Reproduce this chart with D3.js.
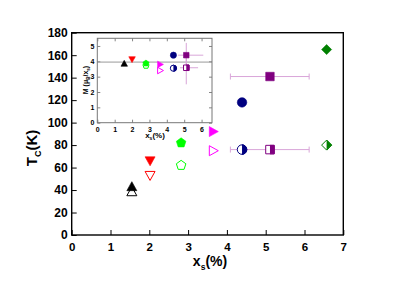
<!DOCTYPE html>
<html>
<head>
<meta charset="utf-8">
<script src="https://cdn.jsdelivr.net/npm/d3@7/dist/d3.min.js"></script>
<style>
  body { margin: 0; background: #fff; }
  svg { font-family: "Liberation Sans", Arial, sans-serif; font-weight: bold; }
</style>
</head>
<body>
<svg id="chart" width="399" height="282"></svg>
<script>
// main panel data
var shapes = ['tri-up', 'tri-down', 'pentagon', 'tri-right', 'circle', 'square', 'diamond'];
var colors = ['#000000', '#ff0000', '#00ff00', '#ff00ff', '#000080', '#800080', '#008000'];
var xs = [1.55, 2.02, 2.82, 3.65, 4.39, 5.11, 6.57];
var tcFilled = [43, 66, 82, 92, 118, 141, 165];
var tcOpen = [38.5, 53, 62, 75, 76, 76, 80];
var halfFilled = [false, false, false, false, true, true, true];
var xErrLow = [null, null, null, null, null, 4.09, null];
var xErrHigh = [null, null, null, null, null, 6.12, null];
var xTicks = [0, 1, 2, 3, 4, 5, 6, 7];
var yTicks = [0, 20, 40, 60, 80, 100, 120, 140, 160, 180];

// inset data
var insetXs = [1.55, 2.0, 2.8, 3.62, 4.38, 5.12];
var mFilled = [3.85, 4.13, 3.87, 3.8, 4.4, 4.4];
var mOpen = [null, null, 3.72, 3.4, 3.55, 3.58];
var insetXErrLow = [null, null, null, null, null, 4.65];
var insetXErrHigh = [null, null, null, null, null, 6.1];
var insetYErrLow = [null, null, null, null, null, 3.6];
var insetYErrHigh = [null, null, null, null, null, 5.2];
var openXErrLow = [null, null, null, null, null, 4.76];
var openXErrHigh = [null, null, null, null, null, 5.8];
var openYErrLow = [null, null, null, null, null, 2.5];
var openYErrHigh = [null, null, null, null, null, 4.4];
var insetRef = 3.95;
var insetXTicks = [0, 1, 2, 3, 4, 5, 6];
var insetYTicks = [0, 1, 2, 3, 4, 5];

var errColor = '#d9a6d9';
var svg = d3.select('#chart');

function shapePath(type, s) {
  var h = s / 2;
  switch (type) {
    case 'tri-up': return 'M0,' + (-h) + 'L' + h + ',' + (h * 0.8) + 'L' + (-h) + ',' + (h * 0.8) + 'Z';
    case 'tri-down': return 'M0,' + h + 'L' + h + ',' + (-h * 0.8) + 'L' + (-h) + ',' + (-h * 0.8) + 'Z';
    case 'tri-right': return 'M' + h + ',0L' + (-h * 0.8) + ',' + h + 'L' + (-h * 0.8) + ',' + (-h) + 'Z';
    case 'square': return 'M' + (-h * 0.85) + ',' + (-h * 0.85) + 'h' + (1.7 * h) + 'v' + (1.7 * h) + 'h' + (-1.7 * h) + 'Z';
    case 'diamond': return 'M0,' + (-h) + 'L' + h + ',0L0,' + h + 'L' + (-h) + ',0Z';
    case 'pentagon':
      var p = [];
      for (var k = 0; k < 5; k++) {
        var a = -Math.PI / 2 + k * 2 * Math.PI / 5;
        p.push((h * Math.cos(a)).toFixed(2) + ',' + (h * Math.sin(a)).toFixed(2));
      }
      return 'M' + p.join('L') + 'Z';
    case 'circle':
      var r = h * 0.95;
      return 'M' + (-r) + ',0A' + r + ',' + r + ' 0 1,0 ' + r + ',0A' + r + ',' + r + ' 0 1,0 ' + (-r) + ',0Z';
  }
}

var clipCount = 0;
function marker(g, type, color, x, y, size, style) {
  var m = g.append('g').attr('transform', 'translate(' + x + ',' + y + ')');
  var d = shapePath(type, size);
  if (style === 'filled') {
    m.append('path').attr('d', d).attr('fill', color).attr('stroke', color).attr('stroke-width', 0.6);
  } else {
    m.append('path').attr('d', d).attr('fill', '#fff').attr('stroke', color).attr('stroke-width', 1);
    if (style === 'half') {
      var id = 'half' + (clipCount++);
      m.append('clipPath').attr('id', id).append('rect')
        .attr('x', 0).attr('y', -size).attr('width', size).attr('height', 2 * size);
      m.append('path').attr('d', d).attr('fill', color).attr('stroke', color)
        .attr('stroke-width', 1).attr('clip-path', 'url(#' + id + ')');
    }
  }
}

// ---------- main plot ----------
var x = d3.scaleLinear().domain([0, 7]).range([71.7, 343.3]);
var y = d3.scaleLinear().domain([0, 180]).range([235, 32.7]);

var gx = svg.append('g').attr('transform', 'translate(0,' + y(0) + ')');
gx.call(d3.axisBottom(x).tickValues(d3.range(0, 7.01, 0.5)).tickSize(-3).tickFormat(''));
gx.call(d3.axisBottom(x).tickValues(xTicks).tickSize(-5).tickPadding(8).tickFormat(d3.format('d')));
gx.selectAll('.domain').remove();
gx.selectAll('line').attr('stroke-width', 1);
gx.selectAll('text').attr('font-size', 11.5).attr('font-weight', 'bold').attr('fill', '#000');

var gy = svg.append('g').attr('transform', 'translate(' + x(0) + ',0)');
gy.call(d3.axisLeft(y).tickValues(d3.range(0, 181, 10)).tickSize(-3).tickFormat(''));
gy.call(d3.axisLeft(y).tickValues(yTicks).tickSize(-5).tickPadding(4).tickFormat(d3.format('d')));
gy.selectAll('.domain').remove();
gy.selectAll('line').attr('stroke-width', 1);
gy.selectAll('text').attr('font-size', 12).attr('font-weight', 'bold').attr('fill', '#000');

svg.append('rect').attr('x', x.range()[0]).attr('y', y.range()[1])
  .attr('width', x.range()[1] - x.range()[0]).attr('height', y.range()[0] - y.range()[1])
  .attr('fill', 'none').attr('stroke', '#000').attr('stroke-width', 1.4);

var plot = svg.append('g');
// error bars
xs.forEach(function(v, i) {
  if (xErrLow[i] === null) return;
  [tcFilled[i], tcOpen[i]].forEach(function(t) {
    plot.append('line').attr('x1', x(xErrLow[i])).attr('x2', x(xErrHigh[i]))
      .attr('y1', y(t)).attr('y2', y(t)).attr('stroke', errColor).attr('stroke-width', 1);
    [xErrLow[i], xErrHigh[i]].forEach(function(e) {
      plot.append('line').attr('x1', x(e)).attr('x2', x(e)).attr('y1', y(t) - 3).attr('y2', y(t) + 3)
        .attr('stroke', errColor).attr('stroke-width', 1);
    });
  });
});
xs.forEach(function(v, i) {
  marker(plot, shapes[i], colors[i], x(v), y(tcOpen[i]), 10, halfFilled[i] ? 'half' : 'open');
  marker(plot, shapes[i], colors[i], x(v), y(tcFilled[i]), 10, 'filled');
});

// axis titles
var xt = svg.append('text').attr('x', 210).attr('y', 266).attr('text-anchor', 'middle')
  .attr('font-size', 14).attr('fill', '#000');
xt.append('tspan').text('x');
xt.append('tspan').attr('font-size', 8.5).attr('dy', 4).text('s');
xt.append('tspan').attr('dy', -4).text('(%)');

var yt = svg.append('text').attr('transform', 'translate(37,148) rotate(-90)')
  .attr('text-anchor', 'middle').attr('font-size', 15).attr('fill', '#000');
yt.append('tspan').text('T');
yt.append('tspan').attr('font-size', 9).attr('dy', 4).text('C');
yt.append('tspan').attr('dy', -4).text('(K)');

// ---------- inset ----------
var ix = d3.scaleLinear().domain([0, 6.6]).range([97.3, 212]);
var iy = d3.scaleLinear().domain([0, 5.5]).range([122.7, 38.3]);
var inset = svg.append('g');
inset.append('rect').attr('x', ix.range()[0]).attr('y', iy.range()[1])
  .attr('width', ix.range()[1] - ix.range()[0]).attr('height', iy.range()[0] - iy.range()[1])
  .attr('fill', '#fff');

var igx = inset.append('g').attr('transform', 'translate(0,' + iy(0) + ')');
igx.call(d3.axisBottom(ix).tickValues(d3.range(0, 6.6, 0.5)).tickSize(-1.5).tickFormat(''));
igx.call(d3.axisBottom(ix).tickValues(insetXTicks).tickSize(-3).tickPadding(4).tickFormat(d3.format('d')));
var igxt = inset.append('g').attr('transform', 'translate(0,' + iy(5.5) + ')');
igxt.call(d3.axisTop(ix).tickValues(d3.range(0, 6.6, 0.5)).tickSize(-1.5).tickFormat(''));
igxt.call(d3.axisTop(ix).tickValues(insetXTicks).tickSize(-3).tickFormat(''));

var igy = inset.append('g').attr('transform', 'translate(' + ix(0) + ',0)');
igy.call(d3.axisLeft(iy).tickValues(d3.range(0, 5.51, 0.5)).tickSize(-1.5).tickFormat(''));
igy.call(d3.axisLeft(iy).tickValues(insetYTicks).tickSize(-3).tickPadding(3).tickFormat(d3.format('d')));
var igyr = inset.append('g').attr('transform', 'translate(' + ix(6.6) + ',0)');
igyr.call(d3.axisRight(iy).tickValues(d3.range(0, 5.51, 0.5)).tickSize(-1.5).tickFormat(''));
igyr.call(d3.axisRight(iy).tickValues(insetYTicks).tickSize(-3).tickFormat(''));

inset.selectAll('.domain').remove();
inset.selectAll('.tick line').attr('stroke', '#666').attr('stroke-width', 0.8);
inset.selectAll('.tick text').attr('font-size', 7).attr('font-weight', 'bold').attr('fill', '#000');

inset.append('line').attr('x1', ix(0)).attr('x2', ix(6.6)).attr('y1', iy(insetRef)).attr('y2', iy(insetRef))
  .attr('stroke', '#999').attr('stroke-width', 1);

insetXs.forEach(function(v, i) {
  if (insetXErrLow[i] === null) return;
  var bars = [[mFilled[i], insetXErrLow[i], insetXErrHigh[i], insetYErrLow[i], insetYErrHigh[i]],
              [mOpen[i], openXErrLow[i], openXErrHigh[i], openYErrLow[i], openYErrHigh[i]]];
  bars.forEach(function(b) {
    inset.append('line').attr('x1', ix(b[1])).attr('x2', ix(b[2])).attr('y1', iy(b[0])).attr('y2', iy(b[0]))
      .attr('stroke', errColor).attr('stroke-width', 1);
    inset.append('line').attr('x1', ix(v)).attr('x2', ix(v)).attr('y1', iy(b[3])).attr('y2', iy(b[4]))
      .attr('stroke', errColor).attr('stroke-width', 1);
  });
});
insetXs.forEach(function(v, i) {
  if (mOpen[i] !== null) {
    marker(inset, shapes[i], colors[i], ix(v), iy(mOpen[i]), 6.5, halfFilled[i] ? 'half' : 'open');
  }
  marker(inset, shapes[i], colors[i], ix(v), iy(mFilled[i]), 6.5, 'filled');
});

inset.append('rect').attr('x', ix.range()[0]).attr('y', iy.range()[1])
  .attr('width', ix.range()[1] - ix.range()[0]).attr('height', iy.range()[0] - iy.range()[1])
  .attr('fill', 'none').attr('stroke', '#777').attr('stroke-width', 1);

var ixt = inset.append('text').attr('x', 155).attr('y', 138).attr('text-anchor', 'middle')
  .attr('font-size', 8).attr('fill', '#000');
ixt.append('tspan').text('x');
ixt.append('tspan').attr('font-size', 5).attr('dy', 2).text('s');
ixt.append('tspan').attr('dy', -2).text('(%)');

var iyt = inset.append('text').attr('transform', 'translate(87.5,80) rotate(-90)')
  .attr('text-anchor', 'middle').attr('font-size', 7).attr('fill', '#000');
iyt.append('tspan').text('M (\u03bc');
iyt.append('tspan').attr('font-size', 4.5).attr('dy', 2).text('B');
iyt.append('tspan').attr('dy', -2).text('/x');
iyt.append('tspan').attr('font-size', 4.5).attr('dy', 2).text('s');
iyt.append('tspan').attr('dy', -2).text(')');
</script>
</body>
</html>
